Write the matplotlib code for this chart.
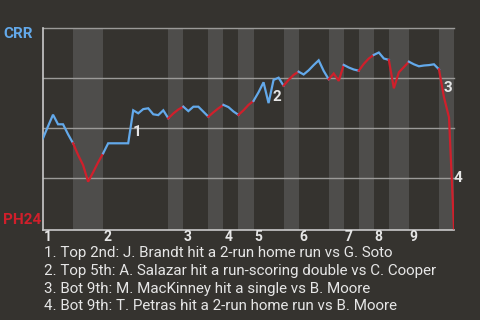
import matplotlib
matplotlib.use("Agg")
import matplotlib.pyplot as plt

plt.rcParams['font.family'] = ['Roboto', 'DejaVu Sans']

# Win probability for CRR after each play (play index 0..82)
win_prob = [0.45, 0.51, 0.568, 0.52, 0.52, 0.47, 0.425,
            0.367, 0.316, 0.233, 0.28, 0.33, 0.375,
            0.425, 0.425, 0.425, 0.425, 0.425, 0.59, 0.575, 0.596, 0.60, 0.57, 0.566, 0.59, 0.55,
            0.574, 0.594, 0.608,
            0.586, 0.608, 0.608, 0.583, 0.558,
            0.58, 0.60, 0.617,
            0.606, 0.584, 0.567,
            0.59, 0.617, 0.637,
            0.68, 0.73, 0.626, 0.742, 0.753, 0.713,
            0.742, 0.767, 0.783,
            0.769, 0.79, 0.816, 0.84, 0.787, 0.745,
            0.774, 0.737, 0.817,
            0.804, 0.794, 0.788,
            0.822, 0.849, 0.867,
            0.879, 0.849, 0.842,
            0.70, 0.78, 0.806, 0.833,
            0.82, 0.81, 0.814, 0.816, 0.82, 0.795,
            0.655, 0.555, 0.0]
plays = list(range(len(win_prob)))

# play index where each half inning starts (top 1st, bot 1st, ..., bot 9th) plus end
half_starts = [0, 6, 12, 25, 28, 33, 36, 39, 42, 48, 51, 57, 60, 63, 66, 69, 73, 79, 82]
innings = ['1', '2', '3', '4', '5', '6', '7', '8', '9']

key_plays = [18, 46, 80, 82]
key_labels = ['1', '2', '3', '4']
notes = [
    "1. Top 2nd: J. Brandt hit a 2-run home run vs G. Soto",
    "2. Top 5th: A. Salazar hit a run-scoring double vs C. Cooper",
    "3. Bot 9th: M. MacKinney hit a single vs B. Moore",
    "4. Bot 9th: T. Petras hit a 2-run home run vs B. Moore",
]

bg = '#35332f'
band = '#4e4d4b'
blue = '#63a9ea'
red = '#d01f2b'
txt = '#e6e6e6'

fig = plt.figure(figsize=(4.8, 3.2), dpi=100, facecolor=bg)
ax = fig.add_axes([43 / 480, 1 - 230.3 / 320, 411 / 480, 202 / 320])
ax.set_facecolor(bg)
ax.set_xlim(0, half_starts[-1])
ax.set_ylim(-0.01, 1.0)

# shaded bottom halves
for k in range(1, len(half_starts) - 1, 2):
    ax.axvspan(half_starts[k], half_starts[k + 1], color=band, lw=0, zorder=0)

for yv in [0.25, 0.5, 0.75, 1.0]:
    ax.axhline(yv, color='#9b9a98', lw=1, zorder=1, clip_on=False)

# line, blue for top halves, red for bottom halves
for k in range(len(half_starts) - 1):
    a, b = half_starts[k], half_starts[k + 1]
    col = blue if k % 2 == 0 else red
    ax.plot(plays[a:b + 1], win_prob[a:b + 1], color=col, lw=1.6,
            solid_joinstyle='miter', zorder=3)

for p, lab in zip(key_plays, key_labels):
    xm = (plays[p - 1] + plays[p]) / 2
    ym = (win_prob[p - 1] + win_prob[p]) / 2
    ax.annotate(lab, (xm, ym), xytext=(6, -5), textcoords='offset pixels',
                ha='center', va='center', fontsize=11, fontweight='bold',
                color=txt, zorder=4)

for k, lab in enumerate(innings):
    ax.text(half_starts[2 * k] + 0.15, -0.033, lab, transform=ax.get_xaxis_transform(),
            ha='left', va='center', fontsize=10, fontweight='bold', color=txt)

for s in ['top', 'right']:
    ax.spines[s].set_visible(False)
for s in ['left', 'bottom']:
    ax.spines[s].set_color('#c9c9c9')
    ax.spines[s].set_linewidth(1.2)
ax.set_xticks([])
ax.set_yticks([])

fig.text(3 / 480, 1 - 33.5 / 320, 'CRR', color=blue, fontsize=11, fontweight='bold',
         ha='left', va='center')
fig.text(3 / 480, 1 - 220 / 320, 'PH24', color=red, fontsize=11, fontweight='bold',
         ha='left', va='center')

for i, line in enumerate(notes):
    fig.text(44 / 480, 1 - (252.5 + 18 * i) / 320, line, color=txt, fontsize=10.9,
             ha='left', va='center')

fig.savefig('out.png', dpi=100, facecolor=bg)
